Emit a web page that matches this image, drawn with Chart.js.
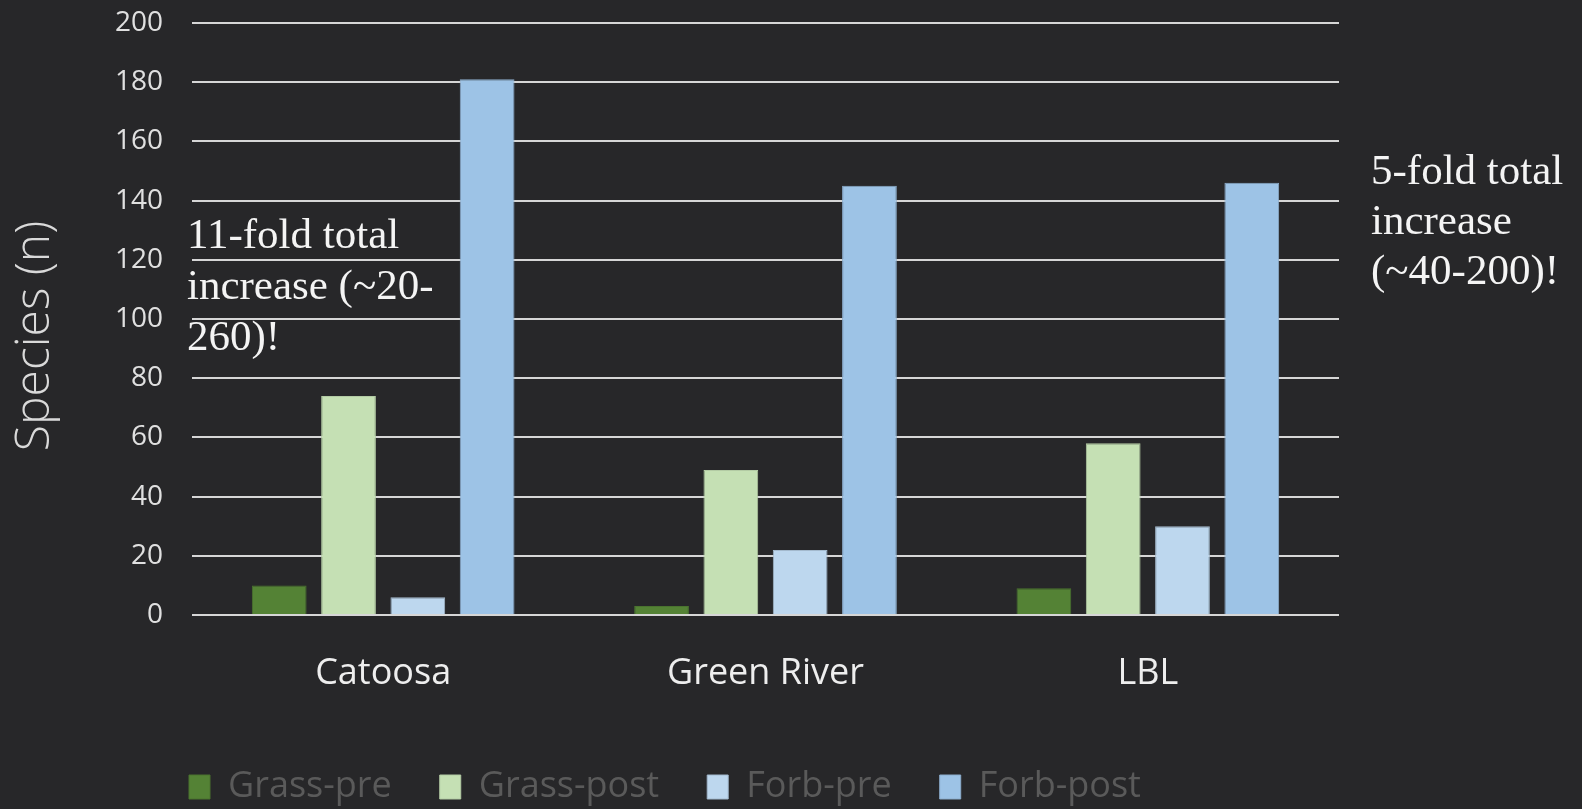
<!DOCTYPE html>
<html>
<head>
<meta charset="utf-8">
<title>Species (n)</title>
<script src="https://cdn.jsdelivr.net/npm/chart.js@4.4.1/dist/chart.umd.min.js"></script>
<style>
  html, body { margin: 0; padding: 0; background: #272729; }
  #wrap { width: 1582px; height: 809px; }
</style>
</head>
<body>
<div id="wrap"><canvas id="speciesChart" width="1582" height="809"></canvas></div>
<script>
// Species counts per site, before and after
const sites = ['Catoosa', 'Green River', 'LBL'];
const grassPre = [10, 3, 9];
const grassPost = [74, 49, 58];
const forbPre = [6, 22, 30];
const forbPost = [181, 145, 146];
const yTicks = [0, 20, 40, 60, 80, 100, 120, 140, 160, 180, 200];

const yTitle = 'Species (n)';
const leftNote = ['11-fold total', 'increase (~20-', '260)!'];
const rightNote = ['5-fold total', 'increase', '(~40-200)!'];

// axis title and the serif callouts
const notesPlugin = {
    id: 'notes',
    afterDraw(chart) {
        const { ctx, chartArea } = chart;
        ctx.save();
        ctx.fillStyle = '#d9d9d9';
        ctx.font = '300 48px "Open Sans"';
        ctx.textAlign = 'center';
        ctx.textBaseline = 'middle';
        ctx.translate(35, (chartArea.top + chartArea.bottom) / 2 + 17);
        ctx.rotate(-Math.PI / 2);
        ctx.fillText(yTitle, 0, 0);
        ctx.restore();

        ctx.save();
        ctx.fillStyle = '#f4f4f4';
        ctx.font = '43px "Liberation Serif", serif';
        ctx.textAlign = 'left';
        ctx.textBaseline = 'alphabetic';
        leftNote.forEach((line, i) => {
            ctx.fillText(line, chartArea.left - 5, 248 + i * 51);
        });
        rightNote.forEach((line, i) => {
            ctx.fillText(line, chartArea.right + 32, 184 + i * 50);
        });
        ctx.restore();
    }
};

// legend sits left of centre, starting under the y labels
const legendShift = {
    id: 'legendShift',
    afterLayout(chart) {
        const lg = chart.legend;
        if (!lg) return;
        const dx = 141 - lg.left;
        lg.left += dx;
        lg.right += dx;
    }
};

const ctx = document.getElementById('speciesChart').getContext('2d');
new Chart(ctx, {
    type: 'bar',
    data: {
        labels: sites,
        datasets: [
            { label: 'Grass-pre', data: grassPre, backgroundColor: '#548235', borderColor: '#4a732f' },
            { label: 'Grass-post', data: grassPost, backgroundColor: '#c5e0b4', borderColor: '#b3cba4' },
            { label: 'Forb-pre', data: forbPre, backgroundColor: '#bdd7ee', borderColor: '#a3b9cd' },
            { label: 'Forb-post', data: forbPost, backgroundColor: '#9dc3e6', borderColor: '#8cadcc' }
        ]
    },
    options: {
        responsive: false,
        animation: false,
        categoryPercentage: 0.725,
        barPercentage: 0.79,
        borderWidth: 1,
        layout: { padding: { top: 23, right: 243, bottom: -6, left: 0 } },
        plugins: {
            tooltip: { enabled: false },
            legend: {
                position: 'bottom',
                align: 'start',
                labels: {
                    color: '#5a5a5a',
                    font: { family: '"Open Sans"', size: 36 },
                    boxWidth: 21,
                    boxHeight: 24,
                    padding: 48
                }
            }
        },
        scales: {
            x: {
                afterFit(axis) { axis.height = 106; },
                grid: { display: false, drawTicks: false },
                border: { display: false },
                ticks: {
                    color: '#eeeeee',
                    font: { family: '"Open Sans"', size: 36 },
                    padding: 37
                }
            },
            y: {
                min: 0,
                max: 200,
                afterFit(axis) { axis.width = 192; },
                afterBuildTicks(axis) { axis.ticks = yTicks.map(v => ({ value: v })); },
                // hidden tick marks give the label gap without padding the top
                grid: { color: '#d6d6d6', lineWidth: 2, drawTicks: true, tickLength: 29, tickColor: 'rgba(0,0,0,0)' },
                border: { display: false },
                ticks: {
                    color: '#e0e0e0',
                    font: { family: '"Open Sans"', size: 28 },
                    padding: 0
                }
            }
        }
    },
    plugins: [notesPlugin, legendShift]
});
</script>
</body>
</html>
